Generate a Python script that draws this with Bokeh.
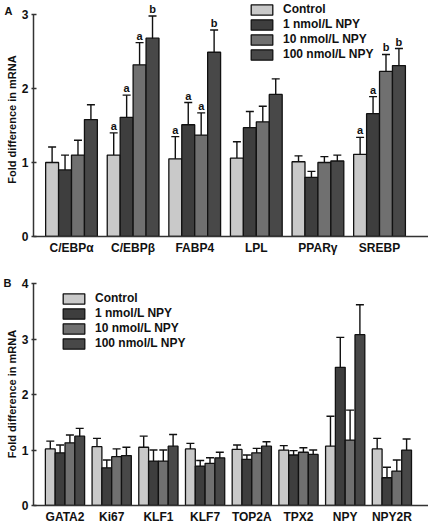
from bokeh.plotting import figure
from bokeh.models import (ColumnDataSource, Range1d, FixedTicker, Whisker, TeeHead,
                          Legend, LegendItem, Title)
from bokeh.layouts import column
from bokeh.embed import file_html
from bokeh.resources import INLINE
from bokeh.core.properties import value

# ---------------- data ----------------
series_names = ["Control", "1 nmol/L NPY", "10 nmol/L NPY", "100 nmol/L NPY"]
series_colors = ["#c9c9c9", "#3e3e3e", "#707070", "#484848"]

genes_a = ["C/EBPα", "C/EBPβ", "FABP4", "LPL", "PPARγ", "SREBP"]
control_a = [1.00, 1.10, 1.05, 1.06, 1.01, 1.11]
control_a_err = [0.21, 0.30, 0.30, 0.22, 0.08, 0.23]
nmol1_a = [0.90, 1.61, 1.51, 1.47, 0.80, 1.66]
nmol1_a_err = [0.20, 0.30, 0.30, 0.22, 0.08, 0.23]
nmol10_a = [1.10, 2.32, 1.37, 1.55, 1.00, 2.23]
nmol10_a_err = [0.20, 0.30, 0.30, 0.21, 0.08, 0.23]
nmol100_a = [1.58, 2.68, 2.49, 1.92, 1.02, 2.31]
nmol100_a_err = [0.20, 0.30, 0.30, 0.21, 0.08, 0.23]
control_a_sig = ["", "a", "a", "", "", "a"]
nmol1_a_sig = ["", "a", "a", "", "", "a"]
nmol10_a_sig = ["", "a", "a", "", "", "b"]
nmol100_a_sig = ["", "b", "b", "", "", "b"]
yticks_a = [0, 1, 2, 3]

genes_b = ["GATA2", "Ki67", "KLF1", "KLF7", "TOP2A", "TPX2", "NPY", "NPY2R"]
control_b = [1.02, 1.06, 1.05, 1.02, 1.01, 1.00, 1.07, 1.02]
control_b_err = [0.14, 0.15, 0.20, 0.10, 0.08, 0.08, 0.54, 0.19]
nmol1_b = [0.95, 0.68, 0.80, 0.71, 0.83, 0.91, 2.49, 0.50]
nmol1_b_err = [0.14, 0.14, 0.20, 0.10, 0.08, 0.08, 0.54, 0.19]
nmol10_b = [1.13, 0.88, 0.80, 0.76, 0.95, 0.96, 1.18, 0.62]
nmol10_b_err = [0.14, 0.14, 0.20, 0.10, 0.08, 0.08, 0.54, 0.20]
nmol100_b = [1.25, 0.90, 1.07, 0.86, 1.07, 0.92, 3.08, 1.00]
nmol100_b_err = [0.14, 0.15, 0.21, 0.10, 0.08, 0.08, 0.54, 0.20]
empty_b = [""] * len(genes_b)
yticks_b = [0, 1, 2, 3, 4]

FONT = "Liberation Sans"
BAR_W = 0.21
INK = "#111111"


def make_panel(genes, means, errs, sigs, yticks, y_end, x_start, x_end,
               frame_w, frame_h, border_top, border_bottom, legend_xy,
               letter, letter_offset, letter_standoff):
    p = figure(frame_width=frame_w, frame_height=frame_h,
               x_range=Range1d(x_start, x_end), y_range=Range1d(0, y_end),
               output_backend="svg", toolbar_location=None,
               min_border_left=33, min_border_right=0,
               min_border_top=border_top, min_border_bottom=border_bottom)
    p.outline_line_color = None
    p.xgrid.visible = False
    p.ygrid.visible = False
    p.background_fill_color = "white"

    items = []
    n = len(genes)
    for i, (m, e, s) in enumerate(zip(means, errs, sigs)):
        off = (i - 1.5) * BAR_W
        xs = [k + off for k in range(n)]
        up = [a + b for a, b in zip(m, e)]
        lo = [a - b for a, b in zip(m, e)]
        src = ColumnDataSource(dict(x=xs, top=m, upper=up, lower=lo, sig=s))
        r = p.vbar(x="x", top="top", width=BAR_W, source=src,
                   fill_color=series_colors[i], line_color=INK, line_width=1.3)
        w = Whisker(base="x", upper="upper", lower="lower", source=src,
                    line_color=INK, line_width=1.4,
                    upper_head=TeeHead(size=8, line_color=INK, line_width=1.4),
                    lower_head=TeeHead(size=8, line_color=INK, line_width=1.4))
        p.add_layout(w)
        p.text(x="x", y="upper", text="sig", source=src, text_align="center",
               text_baseline="bottom", y_offset=-1,
               text_font=value(FONT), text_font_style="bold",
               text_font_size="11px", text_color=INK)
        items.append(LegendItem(label=series_names[i], renderers=[r]))

    legend = Legend(items=items, location=legend_xy)
    legend.background_fill_alpha = 0
    legend.border_line_color = None
    legend.padding = 0
    legend.margin = 0
    legend.spacing = 1
    legend.glyph_width = 27
    legend.glyph_height = 13
    legend.label_height = 13
    legend.label_standoff = 8
    legend.label_text_font = FONT
    legend.label_text_font_style = "bold"
    legend.label_text_font_size = "12px"
    legend.label_text_color = INK
    legend.label_text_baseline = "middle"
    p.add_layout(legend)

    # y axis
    ya = p.yaxis[0]
    ya.ticker = FixedTicker(ticks=yticks)
    ya.bounds = (0, yticks[-1])
    ya.minor_tick_line_color = None
    ya.major_tick_in = 3
    ya.major_tick_out = 2
    ya.axis_line_width = 1.5
    ya.axis_line_color = "#333333"
    ya.major_tick_line_color = "#333333"
    ya.major_tick_line_width = 1.5
    ya.major_label_text_font = FONT
    ya.major_label_text_font_style = "bold"
    ya.major_label_text_font_size = "12px"
    ya.major_label_text_color = INK
    ya.major_label_standoff = 3
    ya.axis_label = "Fold difference in mRNA"
    ya.axis_label_text_font = FONT
    ya.axis_label_text_font_style = "bold"
    ya.axis_label_text_font_size = "11px"
    ya.axis_label_text_color = INK
    ya.axis_label_standoff = 1

    # x axis
    xa = p.xaxis[0]
    xa.ticker = FixedTicker(ticks=list(range(n)))
    xa.major_label_overrides = {k: g for k, g in enumerate(genes)}
    xa.major_tick_line_color = None
    xa.minor_tick_line_color = None
    xa.major_tick_out = 0
    xa.major_tick_in = 0
    xa.axis_line_width = 1.5
    xa.axis_line_color = "#333333"
    xa.major_label_text_font = FONT
    xa.major_label_text_font_style = "bold"
    xa.major_label_text_font_size = "12px"
    xa.major_label_text_color = INK
    xa.major_label_standoff = 4

    # panel letter as a left-aligned title
    p.add_layout(Title(text=letter, align="left", offset=letter_offset,
                       standoff=letter_standoff, text_font=FONT,
                       text_font_style="bold", text_font_size="11px",
                       text_color=INK), "above")
    return p


pa = make_panel(genes_a,
                [control_a, nmol1_a, nmol10_a, nmol100_a],
                [control_a_err, nmol1_a_err, nmol10_a_err, nmol100_a_err],
                [control_a_sig, nmol1_a_sig, nmol10_a_sig, nmol100_a_sig],
                yticks_a, 3.162, -0.617, 5.795, 395, 234, 2, 25, (215, 175),
                "A", -29, -28)

pb = make_panel(genes_b,
                [control_b, nmol1_b, nmol10_b, nmol100_b],
                [control_b_err, nmol1_b_err, nmol10_b_err, nmol100_b_err],
                [empty_b, empty_b, empty_b, empty_b],
                yticks_b, 4.02, -0.6745, 7.784, 395, 223, 21, 17, (27, 155),
                "B", -30, -12)

layout = column(pa, pb, spacing=0)
open("out.html", "w").write(file_html(layout, INLINE))
